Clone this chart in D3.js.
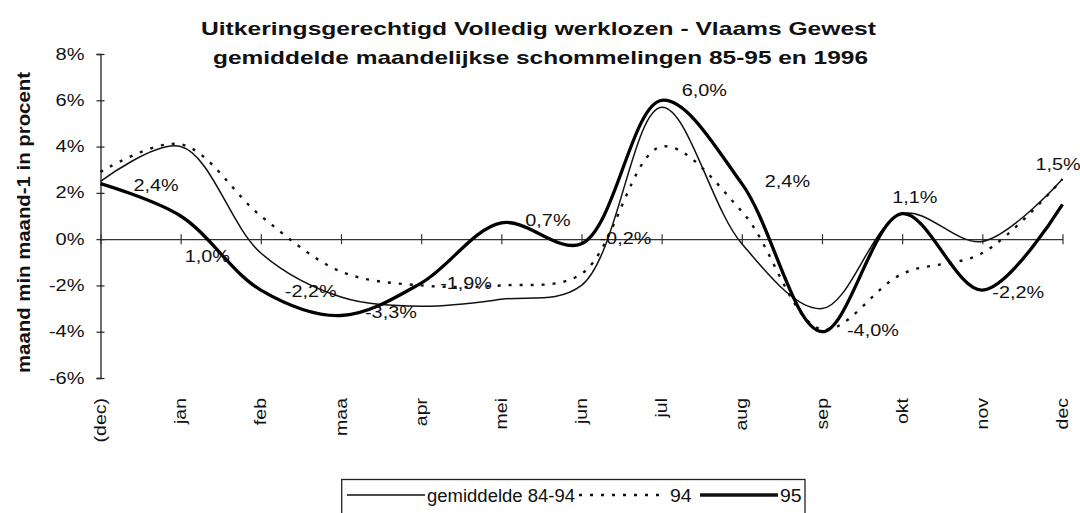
<!DOCTYPE html>
<html>
<head>
<meta charset="utf-8">
<script src="https://cdn.jsdelivr.net/npm/d3@7"></script>
<style>
  body { margin: 0; background: #fff; }
  svg text { font-family: "Liberation Sans", Arial, sans-serif; fill: #111; }
</style>
</head>
<body>
<div id="chart"></div>
<script>
// months, first one is december of the year before
const months = ["(dec)", "jan", "feb", "maa", "apr", "mei", "jun", "jul", "aug", "sep", "okt", "nov", "dec"];
const avg8494 = [2.5, 4.0, -0.6, -2.5, -2.9, -2.6, -2.0, 5.7, -0.2, -3.0, 1.1, -0.1, 2.6];
const y94 = [2.9, 4.1, 1.0, -1.4, -2.0, -2.0, -1.5, 4.0, 1.2, -3.9, -1.5, -0.6, 2.6];
const y95 = [2.4, 1.0, -2.2, -3.3, -1.9, 0.7, -0.2, 6.0, 2.4, -4.0, 1.1, -2.2, 1.5];
const yTicks = [-6, -4, -2, 0, 2, 4, 6, 8];

// where the value labels of 95 sit, relative to their point
const labelNudge = [[33, 2], [4, 40], [24, 1], [24, -3], [19, 0], [24, -2], [18, -5],
                    [20, -10], [23, -2], [25, -1], [-10, -16], [10, 2], [-27, -40]];

const W = 1080, H = 513;
const svg = d3.select("#chart").append("svg")
    .attr("width", W).attr("height", H);

const x = d3.scalePoint().domain(months).range([100.5, 1062.5]);
const y = d3.scaleLinear().domain([-6, 8]).range([378, 54]);

// 1.5 -> "1,5%", plain hyphen for the minus like the original
const fmt = v => d3.format(".1f")(v).replace("\u2212", "-").replace(".", ",") + "%";

// stretch text along its own direction, the scan is wider than Arial
function stretch(sel, k) {
    sel.each(function() {
        const L = this.getComputedTextLength();
        d3.select(this).attr("textLength", L * k).attr("lengthAdjust", "spacingAndGlyphs");
    });
}
function fitTo(sel, len) {
    sel.attr("textLength", len).attr("lengthAdjust", "spacingAndGlyphs");
}

// titles
svg.append("text").attr("x", 538.5).attr("y", 34.5).attr("text-anchor", "middle")
    .attr("font-size", 19).attr("font-weight", "bold")
    .text("Uitkeringsgerechtigd Volledig werklozen - Vlaams Gewest")
    .call(fitTo, 675);
svg.append("text").attr("x", 540.5).attr("y", 63.5).attr("text-anchor", "middle")
    .attr("font-size", 19).attr("font-weight", "bold")
    .text("gemiddelde maandelijkse schommelingen 85-95 en 1996")
    .call(fitTo, 655);

svg.append("text")
    .attr("transform", "translate(23.5,222.5) rotate(-90)")
    .attr("text-anchor", "middle").attr("dominant-baseline", "central")
    .attr("font-size", 18).attr("font-weight", "bold")
    .text("maand min maand-1 in procent")
    .call(fitTo, 301);

// y axis
const yAxis = svg.append("g")
    .attr("transform", `translate(${x.range()[0]},0)`)
    .call(d3.axisLeft(y).tickValues(yTicks).tickSize(4).tickPadding(12).tickFormat(d => d + "%"));
yAxis.select(".domain").attr("stroke", "#222").attr("stroke-width", 1.3);
yAxis.selectAll(".tick line").attr("x2", 4).attr("x1", -4).attr("stroke", "#222").attr("stroke-width", 1.2);
yAxis.selectAll(".tick text").attr("font-size", 16).attr("fill", "#111")
    .attr("font-family", "Liberation Sans, Arial, sans-serif")
    .call(stretch, 1.25);

// x axis on the zero line
const xAxis = svg.append("g")
    .attr("transform", `translate(0,${y(0)})`)
    .call(d3.axisBottom(x).tickSize(0).tickFormat(""));
xAxis.select(".domain").attr("stroke", "#333").attr("stroke-width", 1.1);
xAxis.selectAll(".tick line").attr("y1", -5).attr("y2", 5).attr("stroke", "#333").attr("stroke-width", 1.2);

// month labels below the plot
svg.append("g").selectAll("text")
    .data(months)
    .join("text")
    .attr("transform", d => `translate(${x(d)},${y(-6) + 20}) rotate(-90)`)
    .attr("text-anchor", "end").attr("dominant-baseline", "central")
    .attr("font-size", 16)
    .text(d => d)
    .call(stretch, 1.22);

// lines
const line = d3.line()
    .x((d, i) => x(months[i]))
    .y(d => y(d))
    .curve(d3.curveCatmullRom.alpha(0.5));

svg.append("path").datum(avg8494)
    .attr("d", line).attr("fill", "none")
    .attr("stroke", "#111").attr("stroke-width", 1.5);

svg.append("path").datum(y94)
    .attr("d", line).attr("fill", "none")
    .attr("stroke", "#111").attr("stroke-width", 2.4)
    .attr("stroke-dasharray", "3,8");

svg.append("path").datum(y95)
    .attr("d", line).attr("fill", "none")
    .attr("stroke", "#000").attr("stroke-width", 3.3)
    .attr("stroke-linejoin", "round");

// value labels of 95
svg.append("g").selectAll("text")
    .data(y95)
    .join("text")
    .attr("x", (d, i) => x(months[i]) + labelNudge[i][0])
    .attr("y", (d, i) => y(d) + labelNudge[i][1])
    .attr("dominant-baseline", "central")
    .attr("font-size", 16)
    .text(d => fmt(d))
    .call(stretch, 1.24);

// legend
const lg = svg.append("g");
lg.append("rect").attr("x", 341.7).attr("y", 479.5).attr("width", 463.3).attr("height", 45)
    .attr("fill", "none").attr("stroke", "#222").attr("stroke-width", 1.3);
const legendItems = [
    { label: "gemiddelde 84-94", x1: 347, x2: 425, w: 1.5, dash: null, tx: 427, len: 148 },
    { label: "94", x1: 579, x2: 667, w: 2.4, dash: "3,8", tx: 670, len: 21.7 },
    { label: "95", x1: 700, x2: 778, w: 3.3, dash: null, tx: 780, len: 21.7 }
];
legendItems.forEach(d => {
    lg.append("line").attr("x1", d.x1).attr("x2", d.x2).attr("y1", 495).attr("y2", 495)
        .attr("stroke", "#111").attr("stroke-width", d.w)
        .attr("stroke-dasharray", d.dash);
    lg.append("text").attr("x", d.tx).attr("y", 501.7).attr("font-size", 18)
        .text(d.label).call(fitTo, d.len);
});
</script>
</body>
</html>
